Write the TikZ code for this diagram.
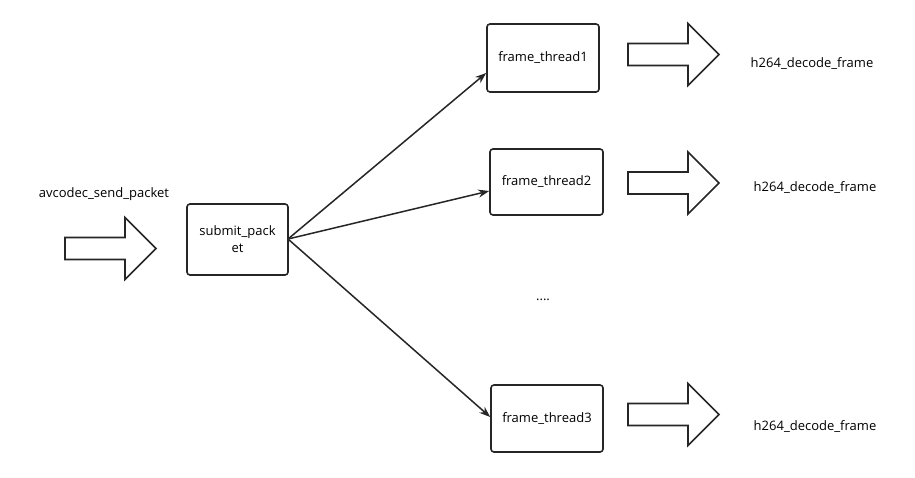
\documentclass[tikz,border=0pt]{standalone}
\usepackage{fontspec}
\setmainfont{Open Sans}
\usetikzlibrary{arrows.meta}
\tikzset{
  box/.style={draw=black!85, line width=1.6pt, rounded corners=3pt, fill=white, align=center, font=\fontsize{13}{17}\selectfont, inner sep=0pt},
  lbl/.style={font=\fontsize{13}{16}\selectfont, inner sep=0pt},
  conn/.style={draw=black!85, line width=1.5pt, -{Stealth[length=11pt,width=8pt]}},
  barrow/.style={draw=black!85, line width=1.6pt, fill=white, line join=miter}
}
\newcommand{\blockarrow}[2]{% x0, ycenter
  \draw[barrow] (#1,#2-11) -- (#1+60,#2-11) -- (#1+60,#2-31) -- (#1+91,#2) -- (#1+60,#2+31) -- (#1+60,#2+11) -- (#1,#2+11) -- cycle;
}
\begin{document}
\begin{tikzpicture}[x=1pt,y=-1pt]
\useasboundingbox (0,0) rectangle (915,477);
\fill[white] (0,0) rectangle (915,477);

\node[lbl] (send) at (104,194) {avcodec\_send\_packet};
\blockarrow{65}{248.5}

\node[box, minimum width=101pt, minimum height=71pt] (sub) at (237.5,239.5) {submit\_pack\\et};

\node[box, minimum width=112pt, minimum height=68pt] (t1) at (543,58) {frame\_thread1};
\node[box, minimum width=113pt, minimum height=66pt] (t2) at (546.5,182) {frame\_thread2};
\node[box, minimum width=112pt, minimum height=67pt] (t3) at (547,418.5) {frame\_thread3};

\node[lbl] (dots) at (543,300) {....};

\blockarrow{628}{54.5}
\blockarrow{628}{183}
\blockarrow{628}{414.5}

\node[lbl] (h1) at (812,64) {h264\_decode\_frame};
\node[lbl] (h2) at (815,188) {h264\_decode\_frame};
\node[lbl] (h3) at (815,427) {h264\_decode\_frame};

\coordinate (s) at (288,239);
\draw[conn] (s) -- (t1.south west |- 0,73) ;
\draw[conn] (s) -- (t2.west |- 0,191);
\draw[conn] (s) -- (t3.west |- 0,417);
\end{tikzpicture}
\end{document}
